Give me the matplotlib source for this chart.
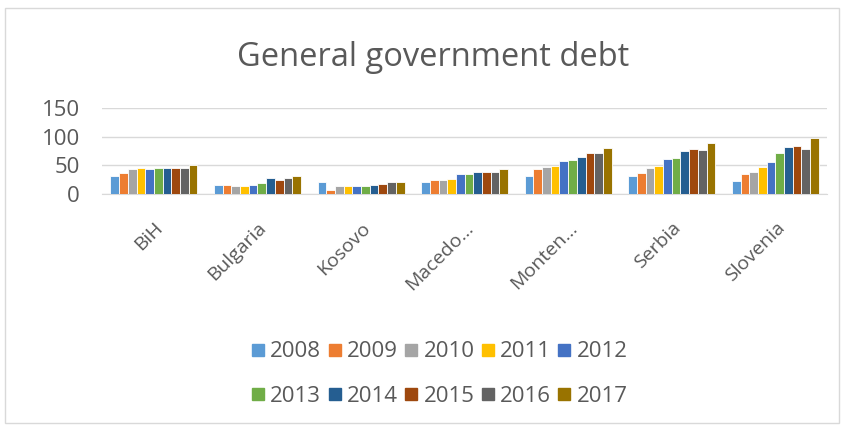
import matplotlib
matplotlib.use("Agg")
import matplotlib.pyplot as plt
import numpy as np
from matplotlib.patches import Rectangle
from matplotlib.lines import Line2D

countries = ["BiH", "Bulgaria", "Kosovo", "Macedo…", "Monten…", "Serbia", "Slovenia"]
years = ["2008", "2009", "2010", "2011", "2012", "2013", "2014", "2015", "2016", "2017"]
colors = ["#5B9BD5", "#ED7D31", "#A5A5A5", "#FFC000", "#4472C4",
          "#70AD47", "#255E91", "#9E480E", "#636363", "#997300"]

# values per year (one list per year, across countries)
d2008 = [32, 16, 21, 20, 32, 32, 23]
d2009 = [37, 16, 6, 25, 44, 37, 34]
d2010 = [43, 13, 14, 25, 47, 46, 39]
d2011 = [45, 13, 13, 26, 49, 49, 47]
d2012 = [43, 16, 14, 34, 57, 60, 55]
d2013 = [46, 19, 14, 34, 59, 62, 71]
d2014 = [46, 28, 15, 39, 64, 74, 81]
d2015 = [46, 25, 18, 39, 71, 79, 83]
d2016 = [46, 27, 20, 39, 71, 76, 79]
d2017 = [51, 31, 20, 44, 80, 88, 97]
series = [d2008, d2009, d2010, d2011, d2012, d2013, d2014, d2015, d2016, d2017]

yticks = [0, 50, 100, 150]

FONT = ["Open Sans", "DejaVu Sans"]
plt.rcParams["font.family"] = FONT
grey = "#595959"

fig = plt.figure(figsize=(8.44, 4.28), dpi=100)
fig.patches.append(Rectangle((0.006, 0.012), 0.988, 0.97, transform=fig.transFigure,
                             fill=False, edgecolor="#D9D9D9", linewidth=1))

ax = fig.add_axes([0.121, 0.547, 0.859, 0.201])
n = len(series)
x = np.arange(len(countries))
group_w = 0.84
bw = group_w / n
for i, (vals, c) in enumerate(zip(series, colors)):
    ax.bar(x - group_w / 2 + bw * (i + 0.5), vals, width=bw, color=c,
           edgecolor="white", linewidth=0.6, zorder=3)

ax.set_xlim(-0.5, len(countries) - 0.5)
ax.set_ylim(0, 150)
ax.set_yticks(yticks)
ax.set_yticklabels([str(t) for t in yticks], fontsize=16, color=grey)
ax.yaxis.grid(True, color="#D9D9D9", linewidth=1, zorder=0)
ax.set_axisbelow(True)
for s in ["top", "right", "left"]:
    ax.spines[s].set_visible(False)
ax.spines["bottom"].set_color("#D9D9D9")
ax.tick_params(axis="y", length=0, pad=16)
ax.tick_params(axis="x", length=0, pad=18)
ax.set_xticks(x)
ax.set_xticklabels(countries, rotation=45, ha="right", rotation_mode="anchor",
                   fontsize=14, color=grey)

fig.text(0.513, 0.865, "General government debt", ha="center", va="center",
         fontsize=23.5, color=grey)

order = [0, 5, 1, 6, 2, 7, 3, 8, 4, 9]
handles = [Line2D([0], [0], marker="s", linestyle="none", markersize=8,
                  markerfacecolor=colors[i], markeredgecolor=colors[i]) for i in order]
labels = [years[i] for i in order]
leg = fig.legend(handles, labels, loc="center", bbox_to_anchor=(0.52, 0.126), ncol=5,
                 frameon=False, fontsize=16, handlelength=0.7, handletextpad=0.2,
                 columnspacing=0.25, labelspacing=1.05, labelcolor=grey)

fig.savefig("out.png", dpi=100)
